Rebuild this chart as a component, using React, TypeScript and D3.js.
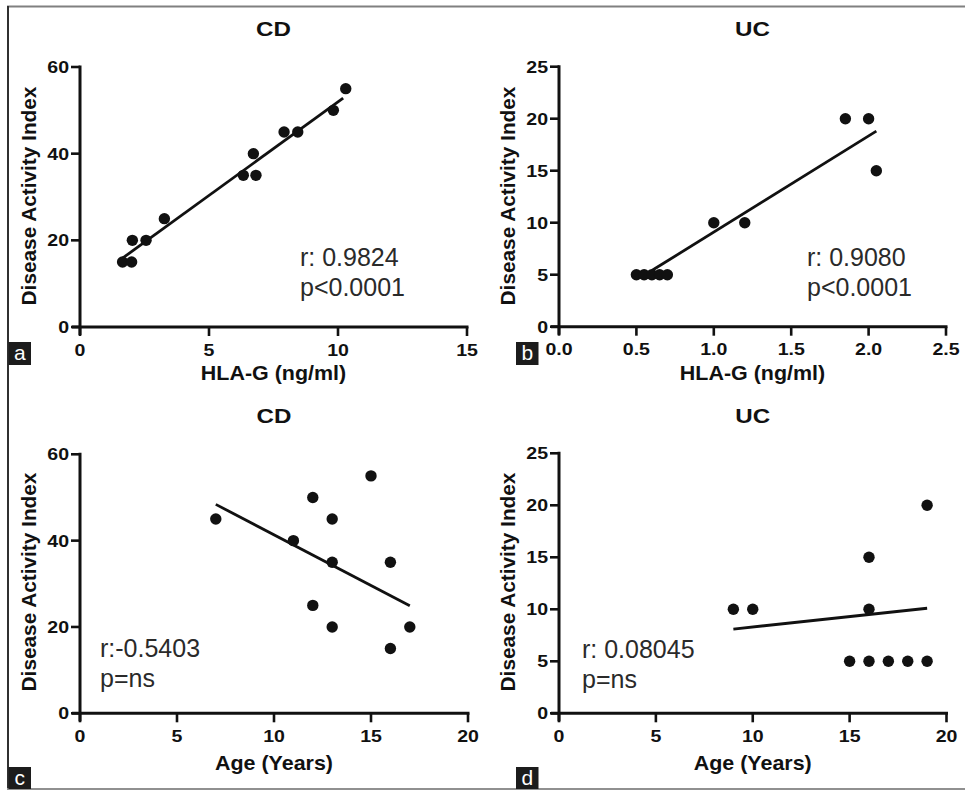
import React from "react";
import * as d3 from "d3";

// ---- data ----
const aX = [1.65, 2.0, 2.03, 2.56, 3.27, 6.33, 6.72, 6.82, 7.91, 8.44, 9.82, 10.3];
const aY = [15, 15, 20, 20, 25, 35, 40, 35, 45, 45, 50, 55];
const aFit = [[1.65, 15.9], [10.2, 52.8]];

const bX = [0.5, 0.55, 0.6, 0.65, 0.7, 1.0, 1.2, 1.85, 2.0, 2.05];
const bY = [5, 5, 5, 5, 5, 10, 10, 20, 20, 15];
const bFit = [[0.6, 5.4], [2.05, 18.8]];

const cX = [7, 11, 12, 12, 13, 13, 13, 15, 16, 16, 17];
const cY = [45, 40, 50, 25, 45, 35, 20, 55, 35, 15, 20];
const cFit = [[7, 48.4], [17, 24.9]];

const dX = [9, 10, 15, 16, 16, 16, 17, 18, 19, 19];
const dY = [10, 10, 5, 5, 10, 15, 5, 5, 5, 20];
const dFit = [[9, 8.1], [19, 10.1]];

const ticksY60 = [0, 20, 40, 60];
const ticksY25 = [0, 5, 10, 15, 20, 25];
const ticksX15 = [0, 5, 10, 15];
const ticksX25 = [0, 0.5, 1.0, 1.5, 2.0, 2.5];
const ticksX20 = [0, 5, 10, 15, 20];

const titles = ["CD", "UC", "CD", "UC"];
const xLabels = ["HLA-G (ng/ml)", "HLA-G (ng/ml)", "Age (Years)", "Age (Years)"];
const rTexts = ["r: 0.9824", "r: 0.9080", "r:-0.5403", "r: 0.08045"];
const pTexts = ["p<0.0001", "p<0.0001", "p=ns", "p=ns"];
const letters = ["a", "b", "c", "d"];

const YLABEL = "Disease Activity Index";

type Panel = {
  xs: number[]; ys: number[]; fit: number[][];
  xDom: [number, number]; yDom: [number, number];
  xTicks: number[]; yTicks: number[]; xFmt: (v: number) => string;
  left: number; right: number; top: number; bottom: number;
  titleY: number; xLabelY: number; annX: number; annY: number;
  boxX: number; boxY: number; boxH: number; ylabCenter: number;
};

const panels: Panel[] = [
  { xs: aX, ys: aY, fit: aFit, xDom: [0, 15], yDom: [0, 60], xTicks: ticksX15, yTicks: ticksY60, xFmt: d3.format("d"),
    left: 80, right: 467, top: 67, bottom: 327, titleY: 36, xLabelY: 380, annX: 300, annY: 266,
    boxX: 8.5, boxY: 342, boxH: 23, ylabCenter: 196 },
  { xs: bX, ys: bY, fit: bFit, xDom: [0, 2.5], yDom: [0, 25], xTicks: ticksX25, yTicks: ticksY25, xFmt: d3.format(".1f"),
    left: 559, right: 946, top: 66.7, bottom: 326.7, titleY: 36, xLabelY: 380, annX: 807, annY: 266,
    boxX: 516, boxY: 342, boxH: 23, ylabCenter: 196 },
  { xs: cX, ys: cY, fit: cFit, xDom: [0, 20], yDom: [0, 60], xTicks: ticksX20, yTicks: ticksY60, xFmt: d3.format("d"),
    left: 80, right: 468, top: 454.3, bottom: 713.3, titleY: 423, xLabelY: 769.5, annX: 100, annY: 657,
    boxX: 8.5, boxY: 767, boxH: 22, ylabCenter: 582 },
  { xs: dX, ys: dY, fit: dFit, xDom: [0, 20], yDom: [0, 25], xTicks: ticksX20, yTicks: ticksY25, xFmt: d3.format("d"),
    left: 559, right: 946.5, top: 453.3, bottom: 713.3, titleY: 423, xLabelY: 769.5, annX: 582, annY: 658,
    boxX: 516, boxY: 767, boxH: 22, ylabCenter: 582 },
];

const FONT = "'Liberation Sans', Arial, Helvetica, sans-serif";
const INK = "#111";

function PanelView({ p, i }: { p: Panel; i: number }) {
  const x = d3.scaleLinear().domain(p.xDom).range([p.left, p.right]);
  const y = d3.scaleLinear().domain(p.yDom).range([p.bottom, p.top]);
  const line = d3.line<number[]>().x((d) => x(d[0])).y((d) => y(d[1]));
  const cx = (p.left + p.right) / 2;
  return (
    <g>
      <text transform={`translate(${cx},${p.titleY}) scale(1.15,1)`} textAnchor="middle"
        fontFamily={FONT} fontWeight="bold" fontSize={21} fill={INK}>{titles[i]}</text>
      <line x1={p.left} x2={p.left} y1={p.top - 1.5} y2={p.bottom + 8} stroke={INK} strokeWidth={3} />
      <line x1={p.left - 8} x2={p.right + 1.5} y1={p.bottom} y2={p.bottom} stroke={INK} strokeWidth={3} />
      {p.yTicks.map((t) => (
        <g key={"y" + t}>
          <line x1={p.left - 9} x2={p.left} y1={y(t)} y2={y(t)} stroke={INK} strokeWidth={2.6} />
          <text transform={`translate(${p.left - 11},${y(t) + 6}) scale(1.15,1)`} textAnchor="end"
            fontFamily={FONT} fontWeight="bold" fontSize={17} fill={INK}>{t}</text>
        </g>
      ))}
      {p.xTicks.map((t) => (
        <g key={"x" + t}>
          <line x1={x(t)} x2={x(t)} y1={p.bottom} y2={p.bottom + 9} stroke={INK} strokeWidth={2.6} />
          <text transform={`translate(${x(t)},${p.bottom + 28.5}) scale(1.15,1)`} textAnchor="middle"
            fontFamily={FONT} fontWeight="bold" fontSize={17} fill={INK}>{p.xFmt(t)}</text>
        </g>
      ))}
      <text transform={`translate(${cx},${p.xLabelY}) scale(1.1,1)`} textAnchor="middle"
        fontFamily={FONT} fontWeight="bold" fontSize={19.5} fill={INK}>{xLabels[i]}</text>
      <text transform={`translate(${p.left - 44},${p.ylabCenter}) rotate(-90)`} textAnchor="middle"
        fontFamily={FONT} fontWeight="bold" fontSize={20.8} fill={INK}>{YLABEL}</text>
      <path d={line(p.fit) || ""} stroke={INK} strokeWidth={2.8} fill="none" />
      {p.xs.map((v, k) => (
        <circle key={k} cx={x(v)} cy={y(p.ys[k])} r={5.7} fill={INK} />
      ))}
      <text x={p.annX} y={p.annY} fontFamily={FONT} fontSize={25} fill="#2a2a2a">{rTexts[i]}</text>
      <text x={p.annX} y={p.annY + 30} fontFamily={FONT} fontSize={25} fill="#2a2a2a">{pTexts[i]}</text>
      <rect x={p.boxX} y={p.boxY} width={22.5} height={p.boxH} fill="#1c1c1c" />
      <text x={p.boxX + 11.25} y={p.boxY + 18} textAnchor="middle" fontFamily={FONT} fontSize={21} fill="#fff">{letters[i]}</text>
    </g>
  );
}

export default function App() {
  return (
    <div style={{ position: "absolute", left: 0, top: 0 }}>
      <svg width={965} height={790} viewBox="0 0 965 790" style={{ display: "block", background: "#fff" }}>
        <rect x={0} y={0} width={965} height={790} fill="#fff" />
        <line x1={7} x2={965} y1={6.5} y2={6.5} stroke="#808080" strokeWidth={2} />
        <line x1={8} x2={8} y1={6} y2={789} stroke="#303030" strokeWidth={2} />
        <line x1={7} x2={965} y1={789} y2={789} stroke="#909090" strokeWidth={2} />
        {panels.map((p, i) => (
          <PanelView key={i} p={p} i={i} />
        ))}
      </svg>
    </div>
  );
}
